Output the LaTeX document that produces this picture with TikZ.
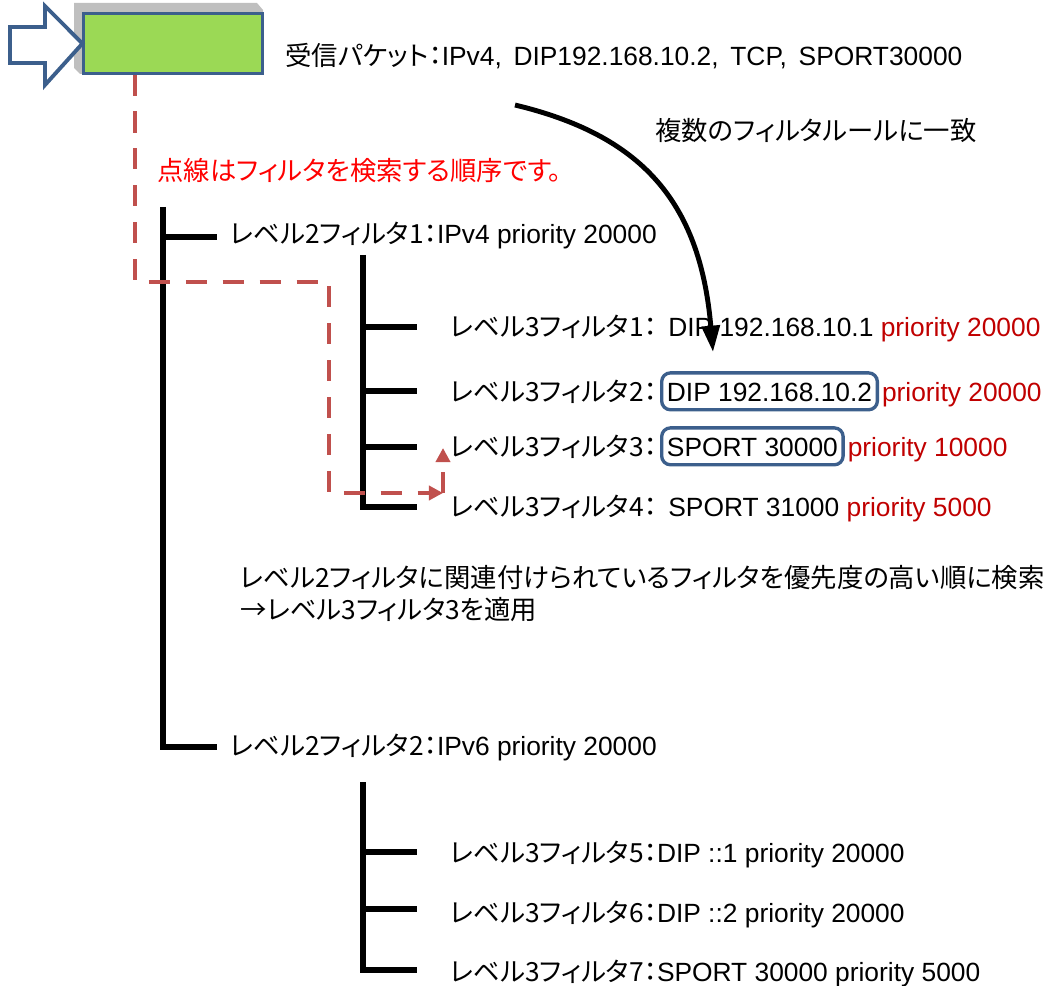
\documentclass[tikz,border=0pt]{standalone}
\usepackage{fontspec}
\setmainfont{Liberation Sans}
\newfontfamily\jp[RawFeature=+palt]{Noto Sans CJK JP}
\usetikzlibrary{positioning,arrows.meta}

\definecolor{paketgruen}{RGB}{155,217,85}
\definecolor{rahmenblau}{RGB}{60,95,140}
\definecolor{pfadrot}{RGB}{192,80,77}
\definecolor{prioritaet}{RGB}{192,0,0}

\tikzset{
  txt/.style={anchor=base west,inner sep=0pt,font=\fontsize{15}{18}\selectfont},
  baum/.style={line width=3pt},
  suchpfad/.style={pfadrot,line width=2.5pt,dash pattern=on 12pt off 9pt},
  treffer/.style={txt,draw=rahmenblau,line width=1.9pt,rounded corners=5pt,fill=white,
    inner xsep=3pt,inner ysep=5pt,text height=11pt,text depth=0pt},
}

\begin{document}
\begin{tikzpicture}[x=0.02cm,y=-0.02cm]
    \useasboundingbox (0,0) rectangle (1047,986);

    % Paket mit Schatten
    \fill[gray!50] (74,3) -- (257,3) -- (263,10) -- (263,74) -- (80,74) -- (74,68) -- cycle;
    \node[draw=rahmenblau,line width=1.2pt,fill=paketgruen,minimum width=3.58cm,minimum height=1.2cm,inner sep=0pt] (pkt) at (173,43.5) {};

    % Eingangspfeil
    \draw[rahmenblau,line width=2.2pt,fill=white] (10,27) -- (45,27) -- (45,6) -- (pkt.west) -- (45,85) -- (45,63) -- (10,63) -- cycle;

    % Texte oben
    \node[txt] (rx) at (285,66) {{\jp 受信パケット：}IPv4,\hspace{2.5pt} DIP192.168.10.2,\hspace{2.5pt} TCP,\hspace{2.5pt} SPORT30000};
    \node[txt] (multi) at (655,141) {\jp 複数のフィルタルールに一致};
    \node[txt,text=red] (hint) at (157,181) {\jp 点線はフィルタを検索する順序です。};

    % Baum Ebene 2
    \draw[baum] (163,207) |- (217,747);
    \draw[baum] (163,237) -- (217,237);

    % Ebene 3, erste Gruppe
    \draw[baum] (363,255) |- (417,507);
    \foreach \y in {327,391,447} {
        \draw[baum] (363,\y) -- (417,\y);
    }

    % Ebene 3, zweite Gruppe
    \draw[baum] (363,782) |- (417,970);
    \foreach \y in {852,909} {
        \draw[baum] (363,\y) -- (417,\y);
    }

    % Filter Ebene 2
    \node[txt] (f21) at (230,244) {{\jp レベル2フィルタ1：}IPv4 priority 20000};
    \node[txt] (f22) at (230,755) {{\jp レベル2フィルタ2：}IPv6 priority 20000};

    % Filter Ebene 3, erste Gruppe
    \node[txt] (f31) at (450,337) {\jp レベル3フィルタ1：};
    \node[txt] (v31) at (668,337) {DIP 192.168.10.1 \textcolor{prioritaet}{priority 20000}};
    \node[txt] (f32) at (450,401) {\jp レベル3フィルタ2：};
    \node[treffer] (v32) at (660,401) {DIP 192.168.10.2};
    \node[txt,text=prioritaet,base right=1.5pt of v32] (p32) {priority 20000};
    \node[txt] (f33) at (450,456) {\jp レベル3フィルタ3：};
    \node[treffer] (v33) at (660,456) {SPORT 30000};
    \node[txt,text=prioritaet,base right=1.5pt of v33] (p33) {priority 10000};
    \node[txt] (f34) at (450,516) {\jp レベル3フィルタ4：};
    \node[txt] (v34) at (668,516) {SPORT 31000 \textcolor{prioritaet}{priority 5000}};

    % Erklaerung
    \node[txt] (note1) at (240,587) {\jp レベル2フィルタに関連付けられているフィルタを優先度の高い順に検索};
    \node[txt] (note2) at (240,619) {\jp →レベル3フィルタ3を適用};

    % Filter Ebene 3, zweite Gruppe
    \node[txt] (f35) at (450,862) {{\jp レベル3フィルタ5：}DIP ::1 priority 20000};
    \node[txt] (f36) at (450,922) {{\jp レベル3フィルタ6：}DIP ::2 priority 20000};
    \node[txt] (f37) at (450,981) {{\jp レベル3フィルタ7：}SPORT 30000 priority 5000};

    % Suchreihenfolge (gestrichelt)
    \coordinate (s1) at (135,282);
    \coordinate (s2) at (329,282);
    \coordinate (s3) at (329,493);
    \coordinate (s4) at (443,493);
    \coordinate (s5) at (443,448);
    \draw[suchpfad,-{Triangle[length=8pt,width=8pt]}] (s1 |- pkt.south) -- (s1) -- (s2) -- (s3) -- (s4);
    \draw[suchpfad,-{Triangle[length=8pt,width=8pt]}] (s4) -- (s5);

    % Treffer-Pfeil
    \coordinate (k1) at (515,105);
    \coordinate (k2) at (713,352);
    \draw[line width=2.8pt,-{Triangle[length=15pt,width=10pt]}] (k1) .. controls (640,135) and (700,200) .. (k2);
\end{tikzpicture}
\end{document}
